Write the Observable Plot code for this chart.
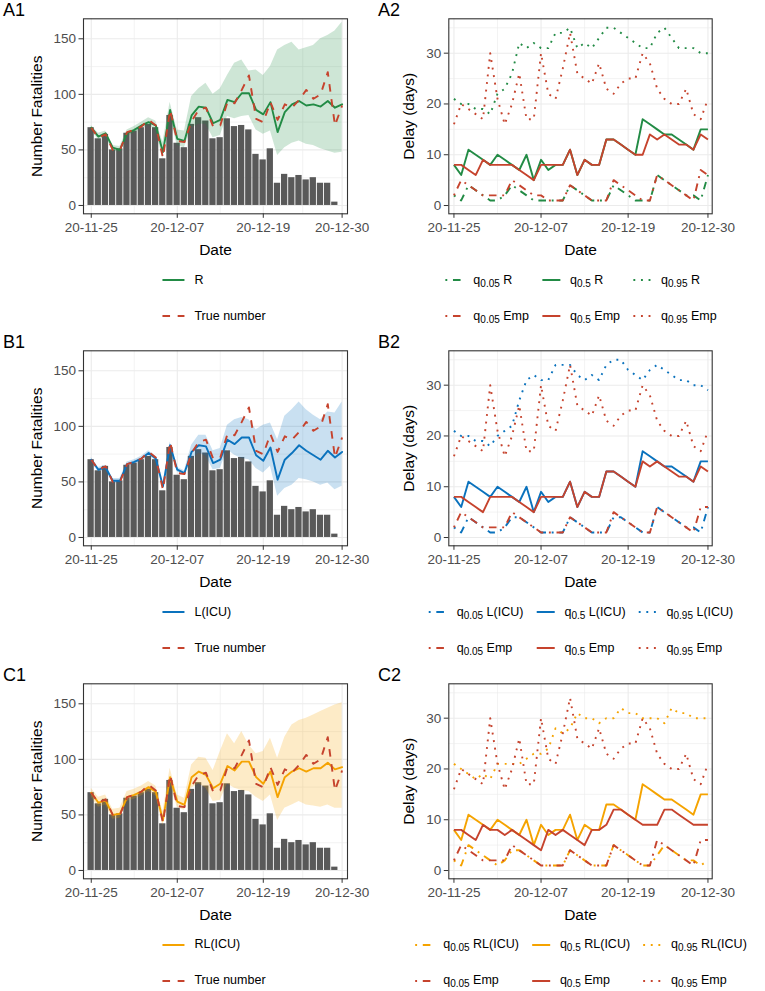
<!DOCTYPE html>
<html><head><meta charset="utf-8">
<script src="https://cdn.jsdelivr.net/npm/d3@7"></script>
<script src="https://cdn.jsdelivr.net/npm/@observablehq/plot@0.6"></script>
<style>
body{margin:0;background:#fff;font-family:"Liberation Sans",Arial,sans-serif;}
#root{position:relative;width:765px;height:991px;overflow:hidden;background:#fff;}
.plabel{position:absolute;font-size:18px;color:#000;line-height:1;}
.panel{position:absolute;}
.legend{position:absolute;display:grid;align-items:center;transform:translateX(-50%);font-size:12.5px;color:#000;grid-auto-rows:36px;}
.legend .lab{padding-left:8px;padding-right:11px;white-space:nowrap;line-height:1;}
.legend .lab.last{padding-right:0;}
.legend sub{font-size:10px;vertical-align:-3px;line-height:0;}
svg.key{display:block;}
</style>
</head><body><div id="root"></div>
<script>
// ---- categories / ticks ----
const dayStart = "2020-11-25", dayEnd = "2020-12-30";
const xTickLabels = ["20-11-25","20-12-07","20-12-19","20-12-30"];
const yTicksCount = [0,50,100,150];
const yTicksDelay = [0,10,20,30];
const panelIds = [["A1","A2"],["B1","B2"],["C1","C2"]];
const modelNames = ["R","L(ICU)","RL(ICU)"];

// ---- fatalities ----
const deaths = [70,60,64,50,51,65,67,70,73,70, 42,81,56,52,73,79,76,60,61,78, 71,72,68,46,41,51,20,28,25,27, 23,25,20,20,3,null];
const trueNumber = [70,61,64,50,50,66,68,71,77,72, 43,86,58,57,76,86,88,71,72,93, 92,104,117,78,75,93,77,91,88,95, 104,96,100,120,72,90];

const rMedian = [70,62,65,52,50,65,68,72,75,72, 48,86,60,58,81,89,88,74,77,95, 93,101,101,86,82,93,66,84,91,94, 90,91,89,94,88,91];
const rLower  = [68,59,62,49,48,62,65,69,72,68, 42,80,54,52,70,73,73,61,63,80, 78,80,81,68,64,67,45,52,56,58, 55,54,51,49,47,48];
const rUpper  = [72,65,67,54,53,68,71,75,79,76, 57,93,68,67,98,105,110,100,105,117, 128,131,121,122,117,125,140,144,147,140, 142,144,150,153,157,165];

const lMedian = [70,61,63,51,51,66,68,71,76,71, 46,83,61,58,77,83,82,67,70,88, 84,90,90,74,69,81,52,70,76,83, 78,74,70,78,72,77];
const lLower  = [68,59,61,49,49,64,66,69,74,69, 44,80,59,56,70,76,73,61,62,79, 74,71,70,62,58,64,37,44,47,53, 52,50,47,49,43,46];
const lUpper  = [72,63,65,53,53,68,70,73,78,73, 48,86,63,60,83,92,92,78,80,101, 106,108,106,97,101,103,88,109,115,122, 115,110,106,113,112,122];

const rlMedian = [70,61,63,50,51,66,68,71,75,71, 45,84,62,59,84,89,86,74,78,94, 90,98,98,84,78,89,66,84,89,92, 89,92,92,97,91,93];
const rlLower  = [66,57,59,46,47,62,64,67,71,67, 40,78,57,54,74,78,74,62,63,78, 74,72,71,66,62,68,45,56,59,62, 59,58,57,59,56,56];
const rlUpper  = [74,66,68,55,56,71,73,76,80,76, 53,92,68,65,95,102,101,90,107,123, 114,125,113,105,107,119,101,120,131,135, 137,140,143,146,149,151];

// ---- delays (days) ----
const rQ05 = [2,1,4,3,2,1,1,2,4,3, 2,1,1,1,1,1,4,3,2,1, 1,1,4,3,2,1,1,1,6,5, 4,3,2,2,1,6];
const rQ50 = [8,6,11,10,9,8,10,9,8,7, 10,5,9,7,8,8,11,6,9,8, 8,13,13,12,11,10,17,16,15,14, 14,13,12,11,15,15];
const rQ95 = [21,20,20,19,19,18,22,23,26,32, 31,32,31,31,34,34,35,31,32,31, 33,35,35,34,33,32,31,31,34,35, 33,31,31,31,30,30];
const empAQ05 = [2,5,4,3,2,2,2,2,5,4, 3,2,2,1,1,1,4,3,2,1, 1,1,5,4,3,2,1,1,6,5, 4,3,2,1,7,6];
const empAQ50 = [8,8,7,6,9,8,8,8,8,7, 6,5,8,8,8,8,11,6,9,8, 8,13,13,12,11,10,10,14,13,14, 13,12,12,11,14,13];
const empQ95  = [16,20,19,18,17,30,21,16,20,26, 17,17,30,22,21,27,34,26,25,24, 28,23,22,24,25,25,30,28,23,21, 20,20,23,18,17,21];

const lQ05 = [2,1,4,3,2,1,1,2,4,4, 3,2,1,1,1,1,4,3,2,1, 1,1,4,4,3,2,1,1,6,5, 4,3,2,2,1,6];
const lQ50 = [8,6,11,10,9,8,10,9,8,7, 10,5,9,7,8,8,11,6,9,8, 8,13,13,12,11,10,17,16,15,14, 14,13,12,11,15,15];
const lQ95 = [21,20,20,19,19,18,20,21,22,27, 31,32,31,31,34,34,34,32,31,32, 31,34,35,35,33,32,31,33,34,33, 32,31,31,30,30,29];
const empBQ05 = [2,5,4,3,2,2,2,2,5,4, 3,2,1,1,1,1,4,3,2,1, 1,1,5,4,3,2,1,1,6,5, 4,3,2,1,6,6];
const empBQ50 = [8,8,7,6,5,8,8,8,8,7, 6,5,8,8,8,8,11,6,9,8, 8,13,13,12,11,10,15,14,15,14, 13,12,12,11,14,13];

const rlQ05 = [2,1,5,4,3,2,1,2,4,4, 3,2,1,1,1,1,4,3,2,1, 1,1,5,4,3,2,1,1,3,5, 4,3,2,2,1,2];
const rlQ50 = [8,6,11,10,9,8,10,9,8,7, 10,5,9,7,8,8,11,6,9,8, 8,13,13,12,11,10,17,16,15,14, 14,13,12,11,15,15];
const rlQ95 = [21,20,19,18,19,18,21,21,21,21, 22,23,23,24,28,27,28,31,30,30, 29,30,30,32,31,31,30,30,30,29, 32,31,31,30,30,30];
const empCQ05 = [2,5,4,3,2,2,2,2,5,4, 3,2,1,1,1,1,4,3,2,1, 1,1,5,4,3,2,1,1,6,5, 4,3,2,1,6,6];
const empCQ50 = [8,8,7,6,9,8,8,7,8,7, 6,5,4,8,7,8,7,6,5,8, 8,9,12,12,11,10,9,9,9,12, 12,11,10,9,9,9];

// ---- styling ----
const GREEN = "#228b45", BLUE = "#0a72bd", YELLOW = "#f5a300", RED = "#c6432d", BAR = "#595959";
const LW = 1.9;
const DASHED = "7.6,7.6", DOTTED = "1.9,5.7", DOTDASH = "1.9,5.7,7.6,5.7";
const FONT = '"Liberation Sans", Arial, sans-serif';
const ROW = 332.35;
const TICK_FS = 13.5, TITLE_FS = 15.5;

const parseISO = d3.utcParse("%Y-%m-%d");
const parseTick = d3.utcParse("%y-%m-%d");
const fmt = d3.utcFormat("%y-%m-%d");
const dates = d3.utcDay.range(parseISO(dayStart), d3.utcDay.offset(parseISO(dayEnd), 1));
const xTicks = xTickLabels.map(parseTick);
const xMinor = d3.pairs(xTicks).map(([a, b]) => new Date((+a + +b) / 2));
function minorOf(t, dom) {
  const step = t[1] - t[0];
  return d3.pairs(t).map(([a, b]) => (a + b) / 2).concat([t[t.length-1] + step/2, t[0] - step/2])
    .filter(v => v > dom[0] && v < dom[1]);
}

const leftCfg = [
  {color: GREEN, med: rMedian, lo: rLower, hi: rUpper},
  {color: BLUE, med: lMedian, lo: lLower, hi: lUpper},
  {color: YELLOW, med: rlMedian, lo: rlLower, hi: rlUpper}
];
const rightCfg = [
  {color: GREEN, q05: rQ05, q50: rQ50, q95: rQ95, e05: empAQ05, e50: empAQ50, e95: empQ95},
  {color: BLUE, q05: lQ05, q50: lQ50, q95: lQ95, e05: empBQ05, e50: empBQ50, e95: empQ95},
  {color: YELLOW, q05: rlQ05, q50: rlQ50, q95: rlQ95, e05: empCQ05, e50: empCQ50, e95: empQ95}
];

function common(yTicks, yDom, yTitle, yTitleDx) {
  return {
    grids: [
      Plot.gridX({ticks: xMinor, stroke: "#ebebeb", strokeOpacity: 1, strokeWidth: 0.6}),
      Plot.gridY({ticks: minorOf(yTicks, yDom), stroke: "#ebebeb", strokeOpacity: 1, strokeWidth: 0.6}),
      Plot.gridX({ticks: xTicks, stroke: "#ebebeb", strokeOpacity: 1, strokeWidth: 1.1}),
      Plot.gridY({ticks: yTicks, stroke: "#ebebeb", strokeOpacity: 1, strokeWidth: 1.1})
    ],
    axes: [
      Plot.axisX({ticks: xTicks, tickFormat: fmt, tickSize: 4.5, tickPadding: 4, fontSize: TICK_FS, stroke: "#333333", fill: "#4d4d4d", label: null}),
      Plot.axisY({ticks: yTicks, tickSize: 4.5, tickPadding: 3, fontSize: TICK_FS, stroke: "#333333", fill: "#4d4d4d", label: null}),
      Plot.text([yTitle], {text: d => d, frameAnchor: "left", textAnchor: "middle", lineAnchor: "middle", dx: yTitleDx, rotate: -90, fontSize: TITLE_FS, fill: "#000"}),
      Plot.text(["Date"], {text: d => d, frameAnchor: "bottom", lineAnchor: "middle", dy: 36.7, fontSize: TITLE_FS, fill: "#000"}),
      Plot.frame({stroke: "#333333", strokeWidth: 1.1})
    ]
  };
}

function leftPanel(cfg) {
  const data = dates.map((date, i) => ({date, bar: deaths[i], truth: trueNumber[i], med: cfg.med[i], lo: cfg.lo[i], hi: cfg.hi[i]}));
  const yDom = [-7.5, 168];
  const c = common(yTicksCount, yDom, "Number Fatalities", -46);
  return Plot.plot({
    width: 380, height: 270,
    marginLeft: 83, marginRight: 33, marginTop: 18.3, marginBottom: 56.7,
    x: {type: "utc", domain: [d3.utcHour.offset(dates[0], -25.7), d3.utcHour.offset(dates[dates.length-1], 18)]},
    y: {domain: yDom},
    style: {fontFamily: FONT, background: "transparent", overflow: "visible"},
    marks: [
      ...c.grids,
      Plot.rect(data.filter(d => d.bar != null), {
        x1: d => d3.utcHour.offset(d.date, -10.5), x2: d => d3.utcHour.offset(d.date, 10.5),
        y1: d => 0, y2: "bar", fill: BAR
      }),
      Plot.areaY(data, {x: "date", y1: "lo", y2: "hi", fill: cfg.color, fillOpacity: 0.22}),
      Plot.line(data, {x: "date", y: "med", stroke: cfg.color, strokeWidth: LW}),
      Plot.line(data, {x: "date", y: "truth", stroke: RED, strokeWidth: LW, strokeDasharray: DASHED, strokeLinecap: "butt"}),
      ...c.axes
    ]
  });
}

function rightPanel(cfg) {
  const data = dates.map((date, i) => ({date, q05: cfg.q05[i], q50: cfg.q50[i], q95: cfg.q95[i], e05: cfg.e05[i], e50: cfg.e50[i], e95: cfg.e95[i]}));
  const yDom = [-1.63, 36.77];
  const c = common(yTicksDelay, yDom, "Delay (days)", -40);
  const ln = (y, color, dash) => Plot.line(data, {x: "date", y, stroke: color, strokeWidth: LW, strokeDasharray: dash, strokeLinecap: "butt"});
  return Plot.plot({
    width: 385, height: 270,
    marginLeft: 68.3, marginRight: 53.3, marginTop: 18.3, marginBottom: 56.7,
    x: {type: "utc", domain: [d3.utcHour.offset(dates[0], -16.6), d3.utcHour.offset(dates[dates.length-1], 14.4)]},
    y: {domain: yDom},
    style: {fontFamily: FONT, background: "transparent", overflow: "visible"},
    marks: [
      ...c.grids,
      ln("q05", cfg.color, DOTDASH),
      ln("q50", cfg.color, null),
      ln("q95", cfg.color, DOTTED),
      ln("e05", RED, DOTDASH),
      ln("e50", RED, null),
      ln("e95", RED, DOTTED),
      ...c.axes
    ]
  });
}

function key(color, dash, w = 22) {
  return `<svg class="key" width="${w}" height="12"><line x1="2" y1="6" x2="${w - 2}" y2="6" stroke="${color}" stroke-width="${LW}" ${dash ? `stroke-dasharray="${dash}"` : ""}/></svg>`;
}

const root = document.getElementById("root");
function place(el, left, top) { el.style.left = left + "px"; el.style.top = top + "px"; root.appendChild(el); }

panelIds.forEach((ids, r) => {
  const top = r * ROW;
  const name = modelNames[r];
  const lcfg = leftCfg[r], rcfg = rightCfg[r];

  const l = document.createElement("div"); l.className = "panel"; l.appendChild(leftPanel(lcfg)); place(l, 0, top);
  const rr = document.createElement("div"); rr.className = "panel"; rr.appendChild(rightPanel(rcfg)); place(rr, 380, top);

  const la = document.createElement("div"); la.className = "plabel"; la.textContent = ids[0]; place(la, 3, top + 1);
  const lb = document.createElement("div"); lb.className = "plabel"; lb.textContent = ids[1]; place(lb, 378, top + 1);

  const lg = document.createElement("div"); lg.className = "legend";
  lg.style.gridTemplateColumns = "auto auto";
  lg.innerHTML = `${key(lcfg.color, null, 26)}<div class="lab last">${name}</div>` +
                 `${key(RED, DASHED, 26)}<div class="lab last">True number</div>`;
  place(lg, 213, top + 262);

  const rg = document.createElement("div"); rg.className = "legend";
  rg.style.gridTemplateColumns = "auto auto auto auto auto auto";
  const q = (p, who) => `q<sub>${p}</sub> ${who}`;
  rg.innerHTML =
    `${key(rcfg.color, DOTDASH)}<div class="lab">${q("0.05", name)}</div>` +
    `${key(rcfg.color, null)}<div class="lab">${q("0.5", name)}</div>` +
    `${key(rcfg.color, DOTTED)}<div class="lab last">${q("0.95", name)}</div>` +
    `${key(RED, DOTDASH)}<div class="lab">${q("0.05", "Emp")}</div>` +
    `${key(RED, null)}<div class="lab">${q("0.5", "Emp")}</div>` +
    `${key(RED, DOTTED)}<div class="lab last">${q("0.95", "Emp")}</div>`;
  place(rg, 580, top + 262);
});
</script></body></html>
